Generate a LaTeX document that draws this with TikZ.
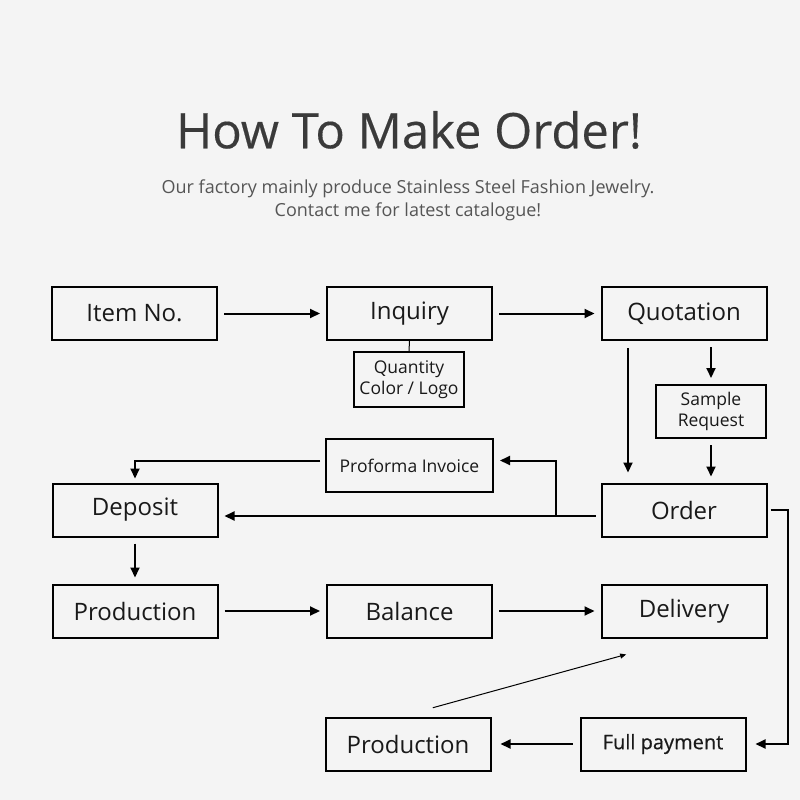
\documentclass[tikz,border=0pt]{standalone}
\usepackage{fontspec}
\setmainfont{Open Sans}
\usepackage{xcolor}
\usetikzlibrary{arrows.meta}
\usetikzlibrary{calc}
\usetikzlibrary{positioning}
\definecolor{paper}{HTML}{F4F4F4}
\definecolor{titlegray}{HTML}{3A3A3A}
\definecolor{subgray}{HTML}{555555}

\begin{document}
\begin{tikzpicture}[x=1pt,y=-1pt,line width=2pt,>={Triangle[length=10pt,width=9pt]}]
 				 \tikzstyle{box}=[draw=black, line width=2pt, text=black!90, minimum width=165pt, minimum height=53pt, inner sep=0pt, font=\fontsize{24}{28}\selectfont]
 				 \tikzstyle{smallbox}=[box, minimum width=110pt, font=\fontsize{17.5}{21}\selectfont, align=center]
 				 \tikzstyle{gap}=[->, line width=2pt, shorten <=6pt, shorten >=6pt]
 				 \tikzstyle{thin}=[line width=1pt]
						\fill[paper] (0,0) rectangle (800,800);
						\node[text=titlegray, font=\fontsize{49}{53}\selectfont\addfontfeatures{FakeBold=0.3}] (title) at (409,130) {How To Make Order!};
						\node[text=subgray, font=\fontsize{18}{23}\selectfont, align=center] (sub) at (408,200) {Our factory mainly produce Stainless Steel Fashion Jewelry.\\Contact me for latest catalogue!};

						\node[box] (item) at (134.5,313.5) {Item No.};
						\node[box] (inquiry) at (409.5,313.5) {Inquiry};
						\node[box] (quote) at (684,313.5) {Quotation};
						\node[smallbox, minimum height=55pt] (qty) at (409,379.5) {Quantity\\Color / Logo};
						\node[smallbox] (sample) at (711,411.5) {Sample\\Request};
						\node[box, minimum width=167pt, font=\fontsize{17.5}{21}\selectfont] (proforma) at (409.5,465.5) {Proforma Invoice};
						\node[box] (deposit) at (135,510) {Deposit};
						\node[box] (order) at (684,510) {Order};
						\node[box] (prod) at (135,611) {Production};
						\node[box] (balance) at (409.5,611) {Balance};
						\node[box] (delivery) at (684,611) {Delivery};
						\node[box] (prodtwo) at (408,744) {Production};
						\node[box, font=\fontsize{20}{24}\selectfont\addfontfeatures{FakeBold=0.6}] (fullpay) at (663,744) {Full payment};
						\coordinate (branch) at (556,516);

						\path
							(item) edge[gap] (inquiry)
							(inquiry) edge[gap] (quote)
							(prod) edge[gap] (balance)
							(balance) edge[gap] (delivery)
							(deposit) edge[gap] (prod)
							(fullpay) edge[gap, shorten <=7pt, shorten >=9pt] (prodtwo);
						\draw[thin] (inquiry.south) -- (qty.north);
						\draw[gap] (sample |- quote.south) -- (sample.north);
						\draw[gap] (sample.south) -- (sample |- order.north);
						\draw[->, shorten <=7pt, shorten >=10pt] ([xshift=-56pt]quote.south) -- ([xshift=-56pt]order.north);
						\draw[->, shorten <=5pt, shorten >=6pt] ([yshift=-6pt]order.west) -- ([yshift=-6pt]deposit.east);
						\draw[->, shorten >=6pt] (branch) |- ([yshift=5pt]proforma.east);
						\draw[->, shorten <=5pt, shorten >=4pt] ([yshift=5pt]proforma.west) -| (deposit.north);
						\draw[->, shorten <=3pt, shorten >=9pt] (order.east) -- ++(20,0) |- (fullpay.east);
						\draw[thin, -{Triangle[length=6pt,width=5pt]}, shorten <=33pt, shorten >=60pt] ([xshift=-7pt]prodtwo.north) -- (delivery.south);

 				\end{tikzpicture}
\end{document}
